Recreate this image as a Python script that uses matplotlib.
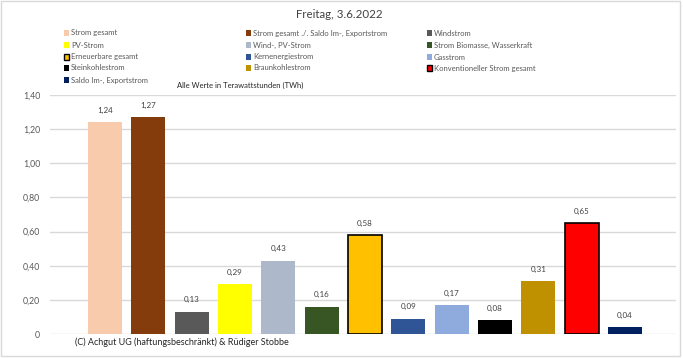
import matplotlib
matplotlib.use("Agg")
import matplotlib.pyplot as plt
from matplotlib.patches import Rectangle

plt.rcParams['font.family'] = ['Lato', 'DejaVu Sans']

categories = ["Strom gesamt", "Strom gesamt ./. Saldo Im-, Exportstrom", "Windstrom",
              "PV-Strom", "Wind-, PV-Strom", "Strom Biomasse, Wasserkraft",
              "Erneuerbare gesamt", "Kernenergiestrom", "Gasstrom",
              "Steinkohlestrom", "Braunkohlestrom", "Konventioneller Strom gesamt",
              "Saldo Im-, Exportstrom"]
values = [1.24, 1.27, 0.13, 0.29, 0.43, 0.16, 0.58, 0.09, 0.17, 0.08, 0.31, 0.65, 0.04]
colors = ["#F8CBAD", "#843C0C", "#595959", "#FFFF00", "#ADB9CA", "#375623",
          "#FFC000", "#2F5597", "#8FAADC", "#000000", "#BF9000", "#FF0000", "#002060"]
edged = [False, False, False, False, False, False, True, False, False, False, False, True, False]
yticks = [0, 0.2, 0.4, 0.6, 0.8, 1.0, 1.2, 1.4]
ytick_labels = ["0", "0,20", "0,40", "0,60", "0,80", "1,00", "1,20", "1,40"]

W, H = 683, 358
fig = plt.figure(figsize=(W / 100, H / 100), dpi=100)
fig.patch.set_facecolor("white")

def fx(px):
    return px / W

def fy(py):
    return (H - py) / H

ax = fig.add_axes([fx(50), fy(334), fx(676) - fx(50), fy(95) - fy(334)])
ax.set_xlim(-1.27, 12.0 + (676 - 625) / 43.33)
ax.set_ylim(0, 1.4)
for s in ax.spines.values():
    s.set_visible(False)
ax.set_xticks([])
ax.set_yticks(yticks)
ax.set_yticklabels(ytick_labels, fontsize=6.3, color="#595959")
ax.tick_params(axis="y", length=0, pad=7)
ax.yaxis.grid(True, color="#D9D9D9", linewidth=1)
ax.set_axisbelow(True)

xs = list(range(len(values)))
for x, v, c, e in zip(xs, values, colors, edged):
    ax.bar(x, v, width=0.78, color=c, edgecolor="black" if e else c,
           linewidth=1.2 if e else 0, zorder=2)
    ax.annotate(f"{v:.2f}".replace(".", ","), (x, v), xytext=(0, 6),
                textcoords="offset points", ha="center", va="bottom",
                fontsize=5.8, color="#404040", annotation_clip=False)

# white box of the copyright text covering the baseline
fig.patches.append(Rectangle((fx(50), fy(351)), fx(397) - fx(50), fy(335) - fy(351),
                             transform=fig.transFigure, facecolor="white",
                             edgecolor="none", zorder=5))
fig.text(fx(75), fy(342), "(C) Achgut UG (haftungsbeschränkt) & Rüdiger Stobbe",
         fontsize=6.5, color="#262626", va="center", ha="left", zorder=6)

# title
fig.text(fx(339), fy(14), "Freitag, 3.6.2022", fontsize=8.3, color="#404040",
         ha="center", va="center")

# legend (row-major, three columns)
col_x = [64, 246, 427]
row_y = [33, 45, 57, 68, 80]
for i, (name, c, e) in enumerate(zip(categories, colors, edged)):
    r, col = divmod(i, 3)
    mx, my = col_x[col], row_y[r]
    fig.patches.append(Rectangle((fx(mx), fy(my + 3)), fx(5), 6 / H,
                                 transform=fig.transFigure, facecolor=c,
                                 edgecolor="black" if e else c,
                                 linewidth=1 if e else 0))
    fig.text(fx(mx + 7), fy(my), name, fontsize=5.5, color="#595959",
             ha="left", va="center")

fig.text(fx(177), fy(85), "Alle Werte in Terawattstunden (TWh)", fontsize=5.5,
         color="#262626", ha="left", va="center")

# chart border
fig.patches.append(Rectangle((fx(1), fy(356)), fx(680) - fx(1), fy(1) - fy(356),
                             transform=fig.transFigure, facecolor="none",
                             edgecolor="#D9D9D9", linewidth=1))

fig.savefig("out.png", dpi=100)
